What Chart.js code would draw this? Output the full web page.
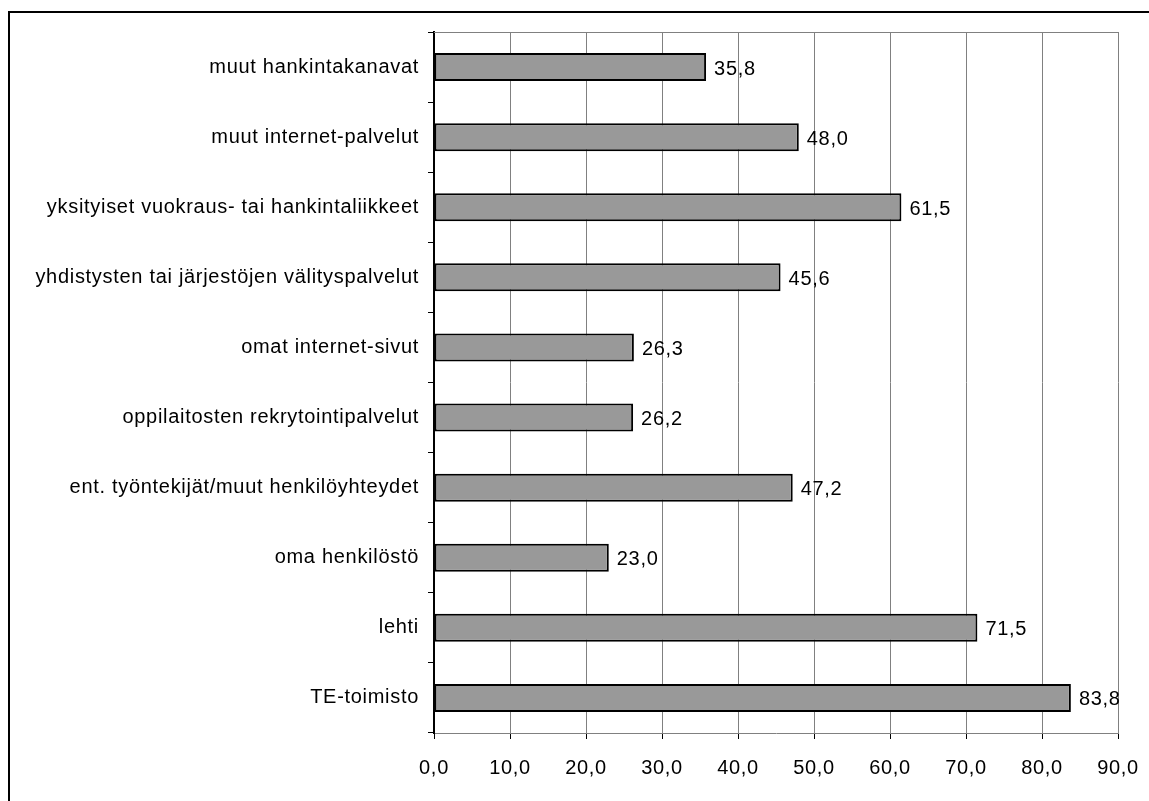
<!DOCTYPE html>
<html>
<head>
<meta charset="utf-8">
<script src="https://cdn.jsdelivr.net/npm/chart.js@4"></script>
<style>
  body { margin: 0; background: #fff; }
  canvas { display: block; }
</style>
</head>
<body>
<canvas id="barChart" width="1149" height="801"></canvas>
<script>
const categories = [
  'muut hankintakanavat',
  'muut internet-palvelut',
  'yksityiset vuokraus- tai hankintaliikkeet',
  'yhdistysten tai järjestöjen välityspalvelut',
  'omat internet-sivut',
  'oppilaitosten rekrytointipalvelut',
  'ent. työntekijät/muut henkilöyhteydet',
  'oma henkilöstö',
  'lehti',
  'TE-toimisto',
];
const values = [35.8, 48.0, 61.5, 45.6, 26.3, 26.2, 47.2, 23.0, 71.5, 83.8];
const xTicks = [0, 10, 20, 30, 40, 50, 60, 70, 80, 90];

const fontFamily = '"Liberation Sans", Arial, sans-serif';
const fmt = v => v.toFixed(1).replace('.', ',');

// wider letter spacing like the original
const spacing = {
  id: 'spacing',
  beforeDraw(chart) { chart.ctx.letterSpacing = '0.7px'; }
};

// frame of the chart + top edge of plot area
const framePlugin = {
  id: 'frame',
  afterDraw(chart) {
    const ctx = chart.ctx;
    const a = chart.chartArea;
    ctx.save();
    ctx.strokeStyle = '#808080';
    ctx.lineWidth = 1;
    ctx.beginPath();
    ctx.moveTo(a.left, a.top + 0.5);
    ctx.lineTo(a.right, a.top + 0.5);
    ctx.stroke();
    ctx.strokeStyle = '#000';
    ctx.lineWidth = 2;
    ctx.beginPath();
    ctx.moveTo(9, 801);
    ctx.lineTo(9, 12);
    ctx.lineTo(1149, 12);
    ctx.stroke();
    ctx.restore();
  }
};

// value labels at end of bars
const valueLabels = {
  id: 'valueLabels',
  afterDatasetsDraw(chart) {
    const ctx = chart.ctx;
    const meta = chart.getDatasetMeta(0);
    ctx.save();
    ctx.letterSpacing = '0.7px';
    ctx.font = '20px ' + fontFamily;
    ctx.fillStyle = '#000';
    ctx.textAlign = 'left';
    ctx.textBaseline = 'middle';
    meta.data.forEach((bar, i) => {
      ctx.fillText(fmt(values[i]), bar.x + 8, bar.y + 2);
    });
    ctx.restore();
  }
};

new Chart(document.getElementById('barChart'), {
  type: 'bar',
  data: {
    labels: categories,
    datasets: [{
      data: values,
      backgroundColor: '#999999',
      borderColor: '#000',
      borderWidth: 2,
      borderSkipped: false,
      barPercentage: 0.4,
      categoryPercentage: 1,
    }],
  },
  options: {
    indexAxis: 'y',
    responsive: false,
    devicePixelRatio: 1,
    animation: false,
    layout: { padding: { top: 32, right: 31, left: 0, bottom: 0 } },
    plugins: {
      legend: { display: false },
      tooltip: { enabled: false },
    },
    scales: {
      x: {
        min: 0,
        max: 90,
        afterBuildTicks: scale => { scale.ticks = xTicks.map(v => ({ value: v })); },
        afterFit: scale => {
          scale.height = 68;
          scale.paddingLeft = 0;
          scale.paddingRight = 0;
        },
        ticks: {
          color: '#000',
          font: { family: fontFamily, size: 20 },
          padding: 17,
          maxRotation: 0,
          callback: v => fmt(v),
        },
        grid: { color: '#808080', tickColor: '#000', tickLength: 6, lineWidth: 1 },
        border: { color: '#808080', width: 1 },
      },
      y: {
        afterFit: scale => { scale.width = 434; },
        ticks: {
          color: '#000',
          font: { family: fontFamily, size: 20 },
          padding: 9,
        },
        grid: { drawOnChartArea: false, offset: true, tickLength: 6, tickColor: '#000' },
        border: { color: '#000', width: 2 },
      },
    },
  },
  plugins: [spacing, framePlugin, valueLabels],
});
</script>
</body>
</html>
